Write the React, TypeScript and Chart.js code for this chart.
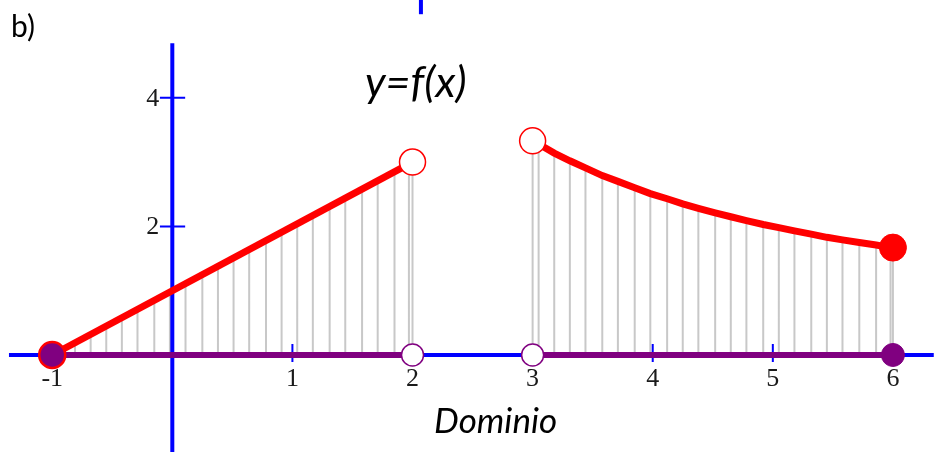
import React, { useEffect, useRef } from "react";
import { Chart, registerables } from "chart.js";

Chart.register(...registerables);

// ---- data ----
const leftStemX = [-0.81, -0.68, -0.55, -0.42, -0.29, -0.15, -0.02, 0.11, 0.25, 0.38, 0.51, 0.64, 0.78, 0.91, 1.04, 1.17, 1.31, 1.44, 1.58, 1.71, 1.85, 1.97, 2.0];
const leftStemY = [0.19, 0.32, 0.45, 0.58, 0.71, 0.85, 0.98, 1.11, 1.25, 1.38, 1.51, 1.64, 1.78, 1.91, 2.04, 2.17, 2.31, 2.44, 2.58, 2.71, 2.85, 2.97, 3.0];
const rightStemX = [3.0, 3.05, 3.18, 3.31, 3.44, 3.58, 3.71, 3.85, 3.98, 4.12, 4.25, 4.38, 4.52, 4.65, 4.78, 4.92, 5.05, 5.18, 5.32, 5.45, 5.58, 5.72, 5.86, 5.98, 6.0];
const rightStemY = [3.33, 3.28, 3.14, 3.02, 2.91, 2.79, 2.7, 2.6, 2.51, 2.43, 2.35, 2.28, 2.21, 2.15, 2.09, 2.03, 1.98, 1.93, 1.88, 1.83, 1.79, 1.75, 1.71, 1.67, 1.67];

const leftCurveX = [-1, 2];
const leftCurveY = [0, 3];
const rightCurveX = rightStemX;
const rightCurveY = rightStemY;

const domainLeftX = [-1, 2];
const domainRightX = [3, 6];

const xTickValues = [1, 2, 3, 4, 5, 6];
const xLabelValues = [-1, 1, 2, 3, 4, 5, 6];
const xLabelTexts = ["-1", "1", "2", "3", "4", "5", "6"];
const yTickValues = [2, 4];
const yLabelTexts = ["2", "4"];

const xAxisRange = [-1.36, 6.34];
const yAxisRange = [-1.51, 4.85];
const scaleX = [-1.4347, 6.342];
const scaleY = [-1.509, 5.521];

const openRedPts = [
  { x: 2, y: 3 },
  { x: 3, y: 3.33 },
];
const filledRedPts = [{ x: 6, y: 1.67 }];
const startPt = [{ x: -1, y: 0 }];
const openPurplePts = [
  { x: 2, y: 0 },
  { x: 3, y: 0 },
];
const filledPurplePts = [{ x: 6, y: 0 }];
const topMarkX = 2.07;
const topMarkY = [5.3, 5.53];

function segs(xs: number[], y0: number[] | number, y1: number[]) {
  const out: any[] = [];
  xs.forEach((x, i) => {
    out.push({ x, y: Array.isArray(y0) ? y0[i] : y0 });
    out.push({ x, y: y1[i] });
    out.push({ x, y: null });
  });
  return out;
}

const textPlugin = {
  id: "texts",
  afterDatasetsDraw(chart: any) {
    const ctx = chart.ctx;
    const xs = chart.scales.x;
    const ys = chart.scales.y;
    ctx.save();
    ctx.fillStyle = "#1a1a1a";
    ctx.font = "26px 'Liberation Serif'";
    ctx.textAlign = "center";
    ctx.textBaseline = "middle";
    xLabelValues.forEach((v, i) => {
      ctx.fillText(xLabelTexts[i], xs.getPixelForValue(v), ys.getPixelForValue(0) + 24);
    });
    ctx.textAlign = "right";
    yTickValues.forEach((v, i) => {
      ctx.fillText(yLabelTexts[i], xs.getPixelForValue(0) - 13, ys.getPixelForValue(v) + 1);
    });
    ctx.textAlign = "left";
    ctx.textBaseline = "alphabetic";
    ctx.fillStyle = "#000";
    ctx.font = "italic 43px Lato";
    ctx.fillText("y=f(x)", 365, 97);
    ctx.font = "italic 35px Lato";
    ctx.fillText("Dominio", 434, 433);
    ctx.font = "30px Lato";
    ctx.fillText("b)", 11, 37);
    ctx.restore();
  },
};

export default function App() {
  const ref = useRef<HTMLCanvasElement | null>(null);
  useEffect(() => {
    if (!ref.current) return;
    const line = (data: any[], color: string, width: number, order: number) => ({
      data,
      showLine: true,
      spanGaps: false,
      borderColor: color,
      borderWidth: width,
      pointRadius: 0,
      borderCapStyle: "butt",
      clip: false,
      order,
    });
    const pts = (data: any[], fill: string, stroke: string, r: number, bw: number, order: number) => ({
      data,
      showLine: false,
      pointRadius: r,
      pointBackgroundColor: fill,
      pointBorderColor: stroke,
      pointBorderWidth: bw,
      clip: false,
      order,
    });
    const chart = new Chart(ref.current, {
      type: "scatter",
      data: {
        datasets: [
          line([...segs(leftStemX, 0, leftStemY), ...segs(rightStemX, 0, rightStemY)], "#c8c8c8", 2, 20),
          line(
            [
              { x: xAxisRange[0], y: 0 },
              { x: xAxisRange[1], y: 0 },
            ],
            "#0000ff",
            4,
            19
          ),
          line(
            [
              { x: 0, y: yAxisRange[0] },
              { x: 0, y: yAxisRange[1] },
            ],
            "#0000ff",
            4,
            18
          ),
          line(segs([topMarkX], [topMarkY[0]], [topMarkY[1]]), "#0000ff", 4, 18),
          line(
            segs(xTickValues, 0.171, xTickValues.map(() => -0.109)),
            "#0000ff",
            2,
            17
          ),
          line(
            yTickValues.flatMap((v) => [
              { x: -0.103, y: v },
              { x: 0.107, y: v },
              { x: null, y: null },
            ]),
            "#0000ff",
            2,
            17
          ),
          line(
            [
              { x: domainLeftX[0], y: 0 },
              { x: domainLeftX[1], y: 0 },
              { x: null, y: null },
              { x: domainRightX[0], y: 0 },
              { x: domainRightX[1], y: 0 },
            ],
            "#800080",
            6,
            15
          ),
          line(leftCurveX.map((x, i) => ({ x, y: leftCurveY[i] })), "#ff0000", 7, 12),
          line(rightCurveX.map((x, i) => ({ x, y: rightCurveY[i] })), "#ff0000", 7, 12),
          pts(openRedPts, "#ffffff", "#ff0000", 13, 1.5, 5),
          pts(filledRedPts, "#ff0000", "#ff0000", 13.5, 1, 5),
          pts(openPurplePts, "#ffffff", "#800080", 11, 1.5, 4),
          pts(filledPurplePts, "#800080", "#800080", 11.5, 1, 4),
          pts(startPt, "#800080", "#ff0000", 13, 2.5, 3),
        ],
      },
      options: {
        animation: false,
        responsive: false,
        maintainAspectRatio: false,
        events: [],
        layout: { padding: 0, autoPadding: false },
        plugins: { legend: { display: false }, tooltip: { enabled: false }, title: { display: false } },
        scales: {
          x: { type: "linear", display: false, min: scaleX[0], max: scaleX[1] },
          y: { type: "linear", display: false, min: scaleY[0], max: scaleY[1] },
        },
      } as any,
      plugins: [textPlugin],
    } as any);
    return () => chart.destroy();
  }, []);
  return (
    <div style={{ position: "absolute", left: 0, top: 0, width: 934, height: 452, background: "#fff" }}>
      <canvas ref={ref} width={934} height={452} style={{ width: 934, height: 452, display: "block" }} />
    </div>
  );
}
